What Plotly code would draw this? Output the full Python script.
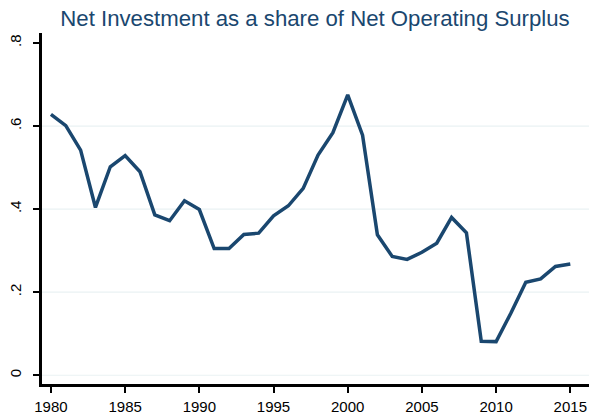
import plotly.graph_objects as go

years = list(range(1980, 2016))
net_inv_share = [0.628, 0.601, 0.542, 0.404, 0.502, 0.529, 0.490, 0.386, 0.372, 0.420,
                 0.399, 0.305, 0.305, 0.339, 0.342, 0.384, 0.408, 0.450, 0.530, 0.584,
                 0.675, 0.578, 0.338, 0.286, 0.279, 0.296, 0.318, 0.380, 0.343, 0.082,
                 0.081, 0.150, 0.224, 0.232, 0.262, 0.268]

x_ticks = [1980, 1985, 1990, 1995, 2000, 2005, 2010, 2015]
y_ticks = [0, 0.2, 0.4, 0.6, 0.8]
y_tick_labels = ["0", ".2", ".4", ".6", ".8"]
grid_values = [0, 0.2, 0.4, 0.6]

navy = "#1a476f"
axis_color = "black"
font_family = "Arial, Liberation Sans, sans-serif"

W, H = 589, 415
ML, MR, MT, MB = 41, 0, 33, 28
x_range = [1979.33, 2016.26]
y_range = [-0.0235, 0.824]

fig = go.Figure()

fig.add_trace(go.Scatter(x=years, y=net_inv_share, mode="lines",
                         line=dict(color=navy, width=3.5), hoverinfo="skip"))

for g in grid_values:
    fig.add_hline(y=g, line=dict(color="#eaf2f3", width=1.2), layer="below")

# axis spines as shapes just inside the plotting area
spine = dict(color=axis_color, width=2)
fig.add_vline(x=x_range[0], line=spine, layer="above")
fig.add_hline(y=y_range[0], line=spine, layer="above")

fig.update_layout(
    width=W, height=H,
    margin=dict(l=ML, r=MR, t=MT, b=MB),
    paper_bgcolor="white", plot_bgcolor="white",
    showlegend=False,
    font=dict(family=font_family, color="black", size=15),
    title=dict(text="Net Investment as a share of Net Operating Surplus",
               font=dict(family=font_family, size=22.2, color=navy),
               x=0.5, xref="paper", xanchor="center",
               y=0.957, yref="container", yanchor="middle"),
    xaxis=dict(range=x_range, tickvals=x_ticks, showgrid=False,
               zeroline=False, showline=True, linecolor=axis_color, linewidth=2,
               ticks="outside", ticklen=6, tickwidth=1.5, tickcolor=axis_color,
               ticklabelstandoff=1, tickfont=dict(size=15, color="black")),
    yaxis=dict(range=y_range, tickvals=y_ticks, ticktext=y_tick_labels,
               showgrid=False, zeroline=False, showline=True, linecolor=axis_color,
               linewidth=2, ticks="outside", ticklen=6, tickwidth=1.5,
               tickcolor=axis_color, ticklabelstandoff=6, tickangle=-90,
               tickfont=dict(size=15, color="black")),
)

fig.write_html("out.html", config={"displayModeBar": False},
               post_script="document.body.style.margin='0';document.body.style.overflow='hidden';")
